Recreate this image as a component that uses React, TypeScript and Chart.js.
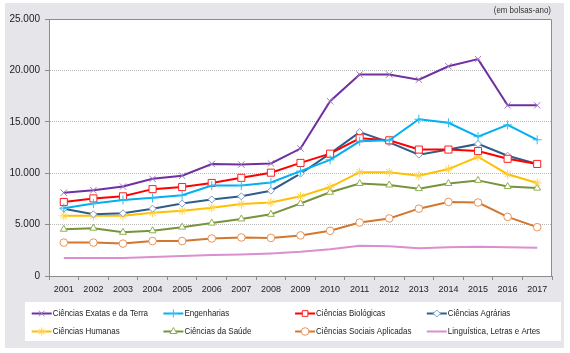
import { useEffect, useRef } from "react";
import { Chart, registerables } from "chart.js";
import { drawPoint } from "chart.js/helpers";

Chart.register(...registerables);

const years = ["2001", "2002", "2003", "2004", "2005", "2006", "2007", "2008", "2009", "2010", "2011", "2012", "2013", "2014", "2015", "2016", "2017"];

const exatas = [8100, 8350, 8700, 9450, 9750, 10900, 10850, 10950, 12400, 17000, 19600, 19600, 19100, 20400, 21100, 16600, 16600];
const engenharias = [6600, 7050, 7400, 7600, 7850, 8800, 8800, 9100, 10200, 11300, 13100, 13200, 15250, 14900, 13550, 14700, 13250];
const biologicas = [7200, 7550, 7750, 8450, 8650, 9050, 9550, 10050, 11000, 11900, 13400, 13200, 12300, 12300, 12150, 11400, 10900];
const agrarias = [6550, 6000, 6100, 6550, 7050, 7450, 7750, 8300, 9950, 11900, 14000, 13000, 11800, 12300, 12850, 11700, 10900];
const humanas = [5850, 5850, 5850, 6150, 6350, 6650, 7000, 7150, 7750, 8650, 10100, 10100, 9750, 10400, 11600, 9900, 9050];
const saude = [4550, 4650, 4250, 4400, 4750, 5150, 5550, 6000, 7050, 8150, 9000, 8850, 8500, 9000, 9300, 8700, 8550];
const sociais = [3250, 3250, 3150, 3400, 3400, 3650, 3750, 3700, 3950, 4400, 5200, 5600, 6550, 7200, 7150, 5750, 4750];
const linguistica = [1750, 1750, 1750, 1850, 1950, 2050, 2100, 2200, 2350, 2600, 2950, 2900, 2700, 2800, 2850, 2800, 2750];

const seriesNames = [
  "Ciências Exatas e da Terra",
  "Engenharias",
  "Ciências Biológicas",
  "Ciências Agrárias",
  "Ciências Humanas",
  "Ciências da Saúde",
  "Ciências Sociais Aplicadas",
  "Linguística, Letras e Artes",
];

const unitLabel = "(em bolsas-ano)";
const yTicks = [0, 5000, 10000, 15000, 20000, 25000];

const FONT = "'Liberation Sans', Arial, sans-serif";

function fmt(v: number) {
  return String(v).replace(/\B(?=(\d{3})+(?!\d))/g, ".");
}

const framePlugin = {
  id: "frame",
  beforeDraw(chart: any) {
    const { ctx, chartArea } = chart;
    ctx.save();
    ctx.fillStyle = "#ffffff";
    ctx.fillRect(0, 0, chart.width, chart.height);
    ctx.fillStyle = "#e6e6ea";
    ctx.fillRect(5, 3, 559, 345);
    ctx.fillStyle = "#ffffff";
    ctx.fillRect(chartArea.left, chartArea.top, chartArea.right - chartArea.left, chartArea.bottom - chartArea.top);
    ctx.fillRect(25, 302, 536, 39);
    ctx.restore();
  },
  beforeDatasetsDraw(chart: any) {
    const { ctx, chartArea } = chart;
    ctx.save();
    ctx.strokeStyle = "#8c8c8c";
    ctx.lineWidth = 1;
    ctx.beginPath();
    ctx.moveTo(chartArea.left, chartArea.top + 0.5);
    ctx.lineTo(chartArea.right - 0.5, chartArea.top + 0.5);
    ctx.lineTo(chartArea.right - 0.5, chartArea.bottom);
    ctx.stroke();
    ctx.restore();
  },
  afterDraw(chart: any) {
    const { ctx } = chart;
    ctx.save();
    ctx.fillStyle = "#333333";
    ctx.font = `9px ${FONT}`;
    ctx.textAlign = "right";
    ctx.textBaseline = "middle";
    const uw = ctx.measureText(unitLabel).width * 0.88;
    ctx.fillText(unitLabel, 551, 11, uw);

    chart.data.datasets.forEach((ds: any, i: number) => {
      const col = i % 4;
      const row = Math.floor(i / 4);
      const x0 = 31.7 + col * 131.7;
      const y = row === 0 ? 313.5 : 331.5;
      ctx.strokeStyle = ds.borderColor;
      ctx.lineWidth = 2;
      ctx.beginPath();
      ctx.moveTo(x0, y);
      ctx.lineTo(x0 + 20, y);
      ctx.stroke();
      if (ds.pointRadius > 0) {
        ctx.fillStyle = ds.pointBackgroundColor;
        ctx.strokeStyle = ds.pointBorderColor;
        ctx.lineWidth = ds.pointBorderWidth;
        const r = Math.min(ds.pointRadius, 4);
        drawPoint(ctx, { pointStyle: ds.pointStyle, rotation: 0, radius: r, borderWidth: ds.pointBorderWidth }, x0 + 10, y);
      }
      ctx.fillStyle = "#222222";
      ctx.font = `9.5px ${FONT}`;
      ctx.textAlign = "left";
      ctx.textBaseline = "middle";
      const w = ctx.measureText(ds.label).width * 0.84;
      ctx.fillText(ds.label, x0 + 21, y, w);
    });
    ctx.restore();
  },
};

export default function App() {
  const ref = useRef<HTMLCanvasElement>(null);

  useEffect(() => {
    if (!ref.current) return;
    const mk = (label: string, data: number[], color: string, style: any, radius: number, pbg: string, pborder: string) => ({
      label,
      data,
      borderColor: color,
      backgroundColor: color,
      borderWidth: 2,
      pointStyle: style,
      pointRadius: radius,
      pointHoverRadius: radius,
      pointBackgroundColor: pbg,
      pointBorderColor: pborder,
      pointBorderWidth: 1,
      tension: 0,
    });
    const chart = new Chart(ref.current, {
      type: "line",
      data: {
        labels: years,
        datasets: [
          mk(seriesNames[0], exatas, "#7030a0", "crossRot", 4.5, "#9b7cc4", "#9b7cc4"),
          mk(seriesNames[1], engenharias, "#00b0f0", "cross", 4.5, "#2fbff2", "#2fbff2"),
          mk(seriesNames[2], biologicas, "#ff0000", "rect", 5, "#ffffff", "#ff2020"),
          mk(seriesNames[3], agrarias, "#2f5d8c", "rectRot", 3.5, "#ffffff", "#7f9fc8"),
          mk(seriesNames[4], humanas, "#ffc000", "star", 4.5, "#ffd24d", "#ffd24d"),
          mk(seriesNames[5], saude, "#77933c", "triangle", 4, "#ffffff", "#8fb052"),
          mk(seriesNames[6], sociais, "#d2772f", "circle", 3.8, "#ffffff", "#e8955a"),
          mk(seriesNames[7], linguistica, "#d98fd0", "circle", 0, "#d98fd0", "#d98fd0"),
        ],
      },
      options: {
        responsive: false,
        animation: false,
        layout: { padding: { left: 0, right: 18, top: 19, bottom: 0 } },
        plugins: {
          legend: { display: false },
          tooltip: { enabled: false },
        },
        scales: {
          x: {
            type: "category",
            offset: true,
            grid: {
              display: true,
              drawOnChartArea: false,
              drawTicks: true,
              tickLength: 4,
              color: "#8c8c8c",
              offset: true,
            },
            border: { display: true, color: "#8c8c8c", width: 1 },
            ticks: {
              color: "#222222",
              font: { family: FONT, size: 9 },
              padding: 4,
              maxRotation: 0,
              autoSkip: false,
            },
            afterFit: (scale: any) => {
              scale.height = 77;
            },
          },
          y: {
            min: 0,
            max: 25000,
            afterBuildTicks: (scale: any) => {
              scale.ticks = yTicks.map((v) => ({ value: v }));
            },
            grid: {
              color: "#b8b8b8",
              lineWidth: 1,
              drawTicks: true,
              tickLength: 4,
              tickColor: "#8c8c8c",
              tickBorderDash: [],
            },
            border: { display: true, color: "#8c8c8c", width: 1, dash: [1, 1] },
            ticks: {
              color: "#222222",
              font: { family: FONT, size: 10 },
              padding: 5,
              callback: (v: any) => fmt(Number(v)),
            },
            afterFit: (scale: any) => {
              scale.width = 49;
            },
          },
        },
      } as any,
      plugins: [framePlugin],
    });
    return () => chart.destroy();
  }, []);

  return (
    <div style={{ position: "fixed", left: 0, top: 0, width: 570, height: 353 }}>
      <canvas ref={ref} width={570} height={353} style={{ width: 570, height: 353, display: "block" }} />
    </div>
  );
}
